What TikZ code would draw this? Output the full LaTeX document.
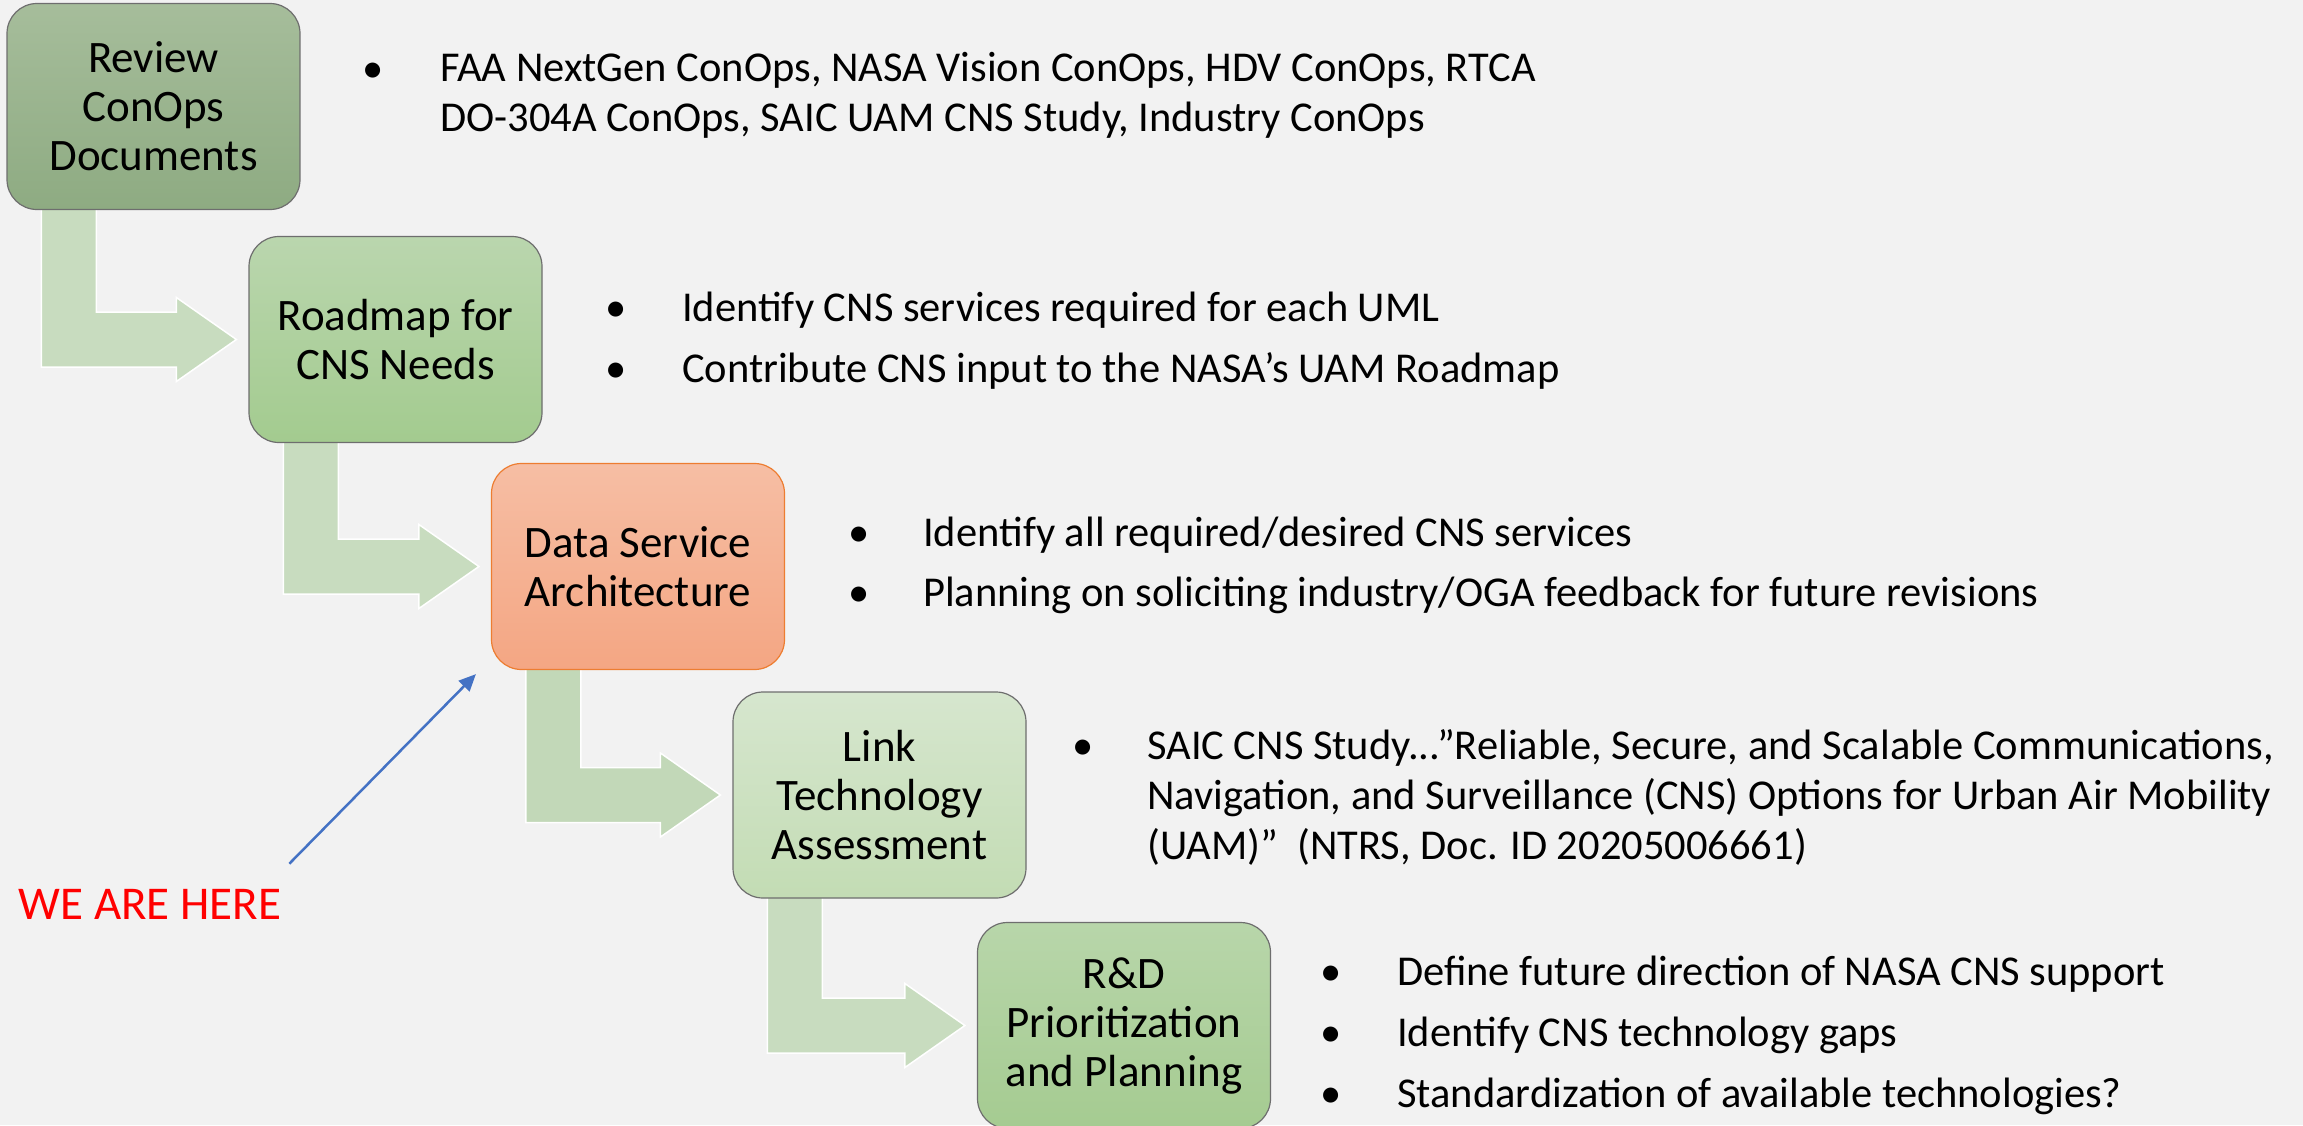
\documentclass[tikz,border=0pt]{standalone}
\usepackage{fontspec}
\setmainfont{Carlito}
\usetikzlibrary{arrows.meta,backgrounds}

\definecolor{slide}{HTML}{F2F2F2}
\definecolor{flowgreen}{HTML}{C8DCBF}
\definecolor{boxline}{HTML}{6E6E6E}
\definecolor{pointer}{HTML}{4472C4}

\tikzset{
  stage/.style={draw=boxline, line width=1.2pt, rounded corners=30pt,
    minimum width=293pt, minimum height=206pt, align=center,
    font=\fontsize{45}{49}\selectfont},
  flow/.style={fill=flowgreen, draw=white, line width=1.5pt},
  item/.style={anchor=base west, align=left, inner sep=0pt,
    font=\fontsize{42.5}{50}\selectfont},
  dot/.style={anchor=base, inner sep=0pt, font=\fontsize{42.5}{50}\selectfont},
}

\begin{document}
\begin{tikzpicture}[x=1pt,y=-1pt]
\useasboundingbox (0,0) rectangle (2303,1125);

% stages
\node[stage, top color={rgb,255:red,166;green,189;blue,155}, bottom color={rgb,255:red,142;green,171;blue,130}]
  (review) at (153.5,106.5) {Review\\ConOps\\Documents};
\node[stage, top color={rgb,255:red,186;green,214;blue,174}, bottom color={rgb,255:red,163;green,203;blue,143}]
  (roadmap) at (395.5,339.5) {Roadmap for\\CNS Needs};
\node[stage, draw={rgb,255:red,237;green,125;blue,49}, top color={rgb,255:red,246;green,190;blue,164}, bottom color={rgb,255:red,244;green,166;blue,131}]
  (data) at (638,566.5) {Data Service\\Architecture};
\node[stage, top color={rgb,255:red,214;green,230;blue,206}, bottom color={rgb,255:red,195;green,220;blue,180}]
  (link) at (879.5,795) {Link\\Technology\\Assessment};
\node[stage, top color={rgb,255:red,184;green,214;blue,170}, bottom color={rgb,255:red,165;green,203;blue,145}]
  (rd) at (1124,1025.5) {R\&D\\Prioritization\\and Planning};

% bent arrows behind the stages
\begin{pgfonlayer}{background}
\fill[slide] (0,0) rectangle (2303,1125);
\draw[flow] ([xshift=35pt,yshift=3pt]review.south west) -- ([xshift=90pt,yshift=3pt]review.south west)
  |- ([xshift=-72pt,yshift=27.5pt]roadmap.west) -- ([xshift=-72pt,yshift=42pt]roadmap.west)
  -- ([xshift=-12pt]roadmap.west) -- ([xshift=-72pt,yshift=-42pt]roadmap.west)
  -- ([xshift=-72pt,yshift=-27.5pt]roadmap.west) -| cycle;
\draw[flow] ([xshift=35pt,yshift=3pt]roadmap.south west) -- ([xshift=90pt,yshift=3pt]roadmap.south west)
  |- ([xshift=-72pt,yshift=27.5pt]data.west) -- ([xshift=-72pt,yshift=42pt]data.west)
  -- ([xshift=-12pt]data.west) -- ([xshift=-72pt,yshift=-42pt]data.west)
  -- ([xshift=-72pt,yshift=-27.5pt]data.west) -| cycle;
\draw[flow, fill={rgb,255:red,194;green,216;blue,184}] ([xshift=35pt,yshift=3pt]data.south west) -- ([xshift=90pt,yshift=3pt]data.south west)
  |- ([xshift=-72pt,yshift=27.5pt]link.west) -- ([xshift=-72pt,yshift=42pt]link.west)
  -- ([xshift=-12pt]link.west) -- ([xshift=-72pt,yshift=-42pt]link.west)
  -- ([xshift=-72pt,yshift=-27.5pt]link.west) -| cycle;
\draw[flow] ([xshift=35pt,yshift=3pt]link.south west) -- ([xshift=90pt,yshift=3pt]link.south west)
  |- ([xshift=-72pt,yshift=27.5pt]rd.west) -- ([xshift=-72pt,yshift=42pt]rd.west)
  -- ([xshift=-12pt]rd.west) -- ([xshift=-72pt,yshift=-42pt]rd.west)
  -- ([xshift=-72pt,yshift=-27.5pt]rd.west) -| cycle;
\end{pgfonlayer}

% bullets (multi-line items sit on their last baseline)
\node[dot] (reviewb1) at (373,82) {•};
\node[item] (review1) at (440,131) {FAA NextGen ConOps, NASA Vision ConOps, HDV ConOps, RTCA\\DO-304A ConOps, SAIC UAM CNS Study, Industry ConOps};

\node[dot] (roadmapb1) at (616,321) {•};
\node[item] (roadmap1) at (682,321) {Identify CNS services required for each UML};
\node[dot] (roadmapb2) at (616,382) {•};
\node[item] (roadmap2) at (682,382) {Contribute CNS input to the NASA’s UAM Roadmap};

\node[dot] (datab1) at (859,546) {•};
\node[item] (data1) at (923,546) {Identify all required/desired CNS services};
\node[dot] (datab2) at (859,606) {•};
\node[item] (data2) at (923,606) {Planning on soliciting industry/OGA feedback for future revisions};

\node[dot] (linkb1) at (1083,759) {•};
\node[item] (link1) at (1147,859) {SAIC CNS Study...”Reliable, Secure, and Scalable Communications,\\Navigation, and Surveillance (CNS) Options for Urban Air Mobility\\(UAM)”\ \ (NTRS, Doc. ID 20205006661)};

\node[dot] (rdb1) at (1331,985) {•};
\node[item] (rd1) at (1397,985) {Define future direction of NASA CNS support};
\node[dot] (rdb2) at (1331,1046) {•};
\node[item] (rd2) at (1397,1046) {Identify CNS technology gaps};
\node[dot] (rdb3) at (1331,1107) {•};
\node[item] (rd3) at (1397,1107) {Standardization of available technologies?};

% we are here
\node[anchor=base, inner sep=0pt, text=red, font=\fontsize{47}{56}\selectfont] (here) at (150,919) {WE ARE HERE};
\draw[pointer, line width=2.5pt, -{Triangle[length=17pt,width=15pt]}]
  ([xshift=8pt,yshift=25pt]here.north east) -- ([xshift=-15pt,yshift=-4pt]data.south west);

\end{tikzpicture}
\end{document}
